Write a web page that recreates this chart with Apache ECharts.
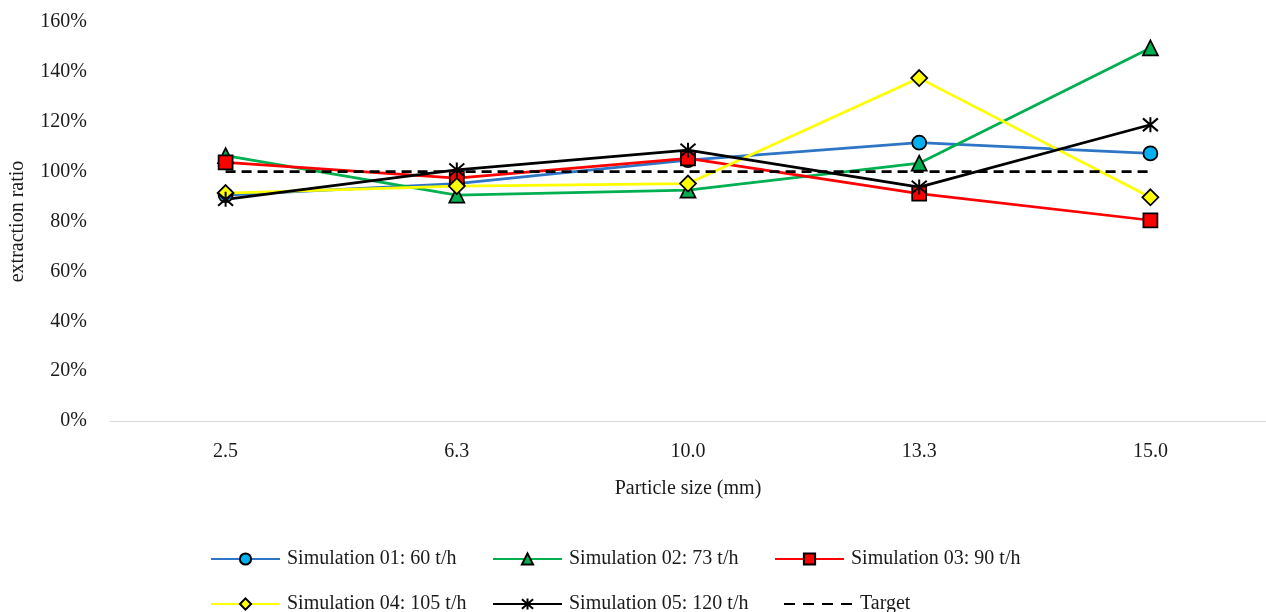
<!DOCTYPE html>
<html>
<head>
<meta charset="utf-8">
<script src="https://cdn.jsdelivr.net/npm/echarts@6/dist/echarts.min.js"></script>
<style>
  html, body { margin: 0; padding: 0; background: #fff; }
  #chart { width: 1266px; height: 612px; }
</style>
</head>
<body>
<div id="chart"></div>
<script>
// Particle size classes (mm)
const categories = ['2.5', '6.3', '10.0', '13.3', '15.0'];

// Extraction ratio (%) per simulation
const sim01 = [90.6, 95.2, 104.6, 111.6, 107.3];
const sim02 = [106.4, 90.6, 92.6, 103.4, 149.6];
const sim03 = [103.7, 97.4, 105.3, 91.2, 80.5];
const sim04 = [91.4, 94.2, 95.2, 137.5, 89.7];
const sim05 = [88.9, 100.7, 108.6, 93.8, 118.8];
const target = [100, 100, 100, 100, 100];

const seriesNames = [
  'Simulation 01: 60 t/h',
  'Simulation 02: 73 t/h',
  'Simulation 03: 90 t/h',
  'Simulation 04: 105 t/h',
  'Simulation 05: 120 t/h',
  'Target'
];

const yTicks = { min: 0, max: 160, interval: 20 };

const FONT = '"Liberation Serif", "DejaVu Serif", serif';
const TEXT = '#1a1a1a';
const FS = 20;
const LW = 2.75;
// six-armed asterisk marker drawn as strokes
const ASTERISK = 'path://M10,0 L10,20 M1.5,1.5 L18.5,18.5 M18.5,1.5 L1.5,18.5';

function sim(name, data, lineColor, fillColor, symbol, size, extra) {
  return Object.assign({
    name: name,
    type: 'line',
    data: data,
    symbol: symbol,
    symbolSize: size,
    showAllSymbol: true,
    lineStyle: { color: lineColor, width: LW },
    itemStyle: { color: fillColor, borderColor: '#000', borderWidth: 1.75 },
    emphasis: { disabled: true },
    animation: false
  }, extra || {});
}

const series = [
  sim(seriesNames[0], sim01, '#2E75C6', '#00B0F0', 'circle', 14),
  sim(seriesNames[1], sim02, '#00B050', '#00B050', 'triangle', 15),
  sim(seriesNames[2], sim03, '#FF0000', '#FF0000', 'rect', 14),
  sim(seriesNames[3], sim04, '#FFFF00', '#FFFF00', 'diamond', 16),
  sim(seriesNames[4], sim05, '#000000', '#000000', ASTERISK, 15,
      { itemStyle: { color: 'rgba(0,0,0,0)', borderColor: '#000', borderWidth: 2 } }),
  {
    name: seriesNames[5],
    type: 'line',
    data: target,
    symbol: 'none',
    lineStyle: { color: '#000', width: LW, type: [10, 6] },
    itemStyle: { color: '#000' },
    emphasis: { disabled: true },
    animation: false
  }
];

// One legend block per entry, laid out in a three-column grid
const legendCols = [210, 492, 774];
const legendRows = [549, 594];
const legends = seriesNames.map(function (n, i) {
  const lg = {
    data: [n],
    left: legendCols[i % 3],
    top: legendRows[Math.floor(i / 3)],
    padding: 0,
    itemWidth: 69,
    itemHeight: 14,
    itemGap: 0,
    selectedMode: false,
    textStyle: { fontFamily: FONT, fontSize: FS, color: TEXT, padding: [0, 0, 0, 2] }
  };
  if (i === 5) {
    // dashed line only, no marker
    lg.left += 9;
    lg.itemStyle = { opacity: 0 };
    lg.lineStyle = { type: [11, 8] };
  }
  return lg;
});

const chart = echarts.init(document.getElementById('chart'), null, { renderer: 'canvas' });
chart.setOption({
  backgroundColor: '#fff',
  animation: false,
  grid: { left: 110, top: 22, width: 1159, height: 399, containLabel: false },
  legend: legends,
  xAxis: {
    type: 'category',
    data: categories,
    boundaryGap: true,
    name: 'Particle size (mm)',
    nameLocation: 'middle',
    nameGap: 58,
    nameTextStyle: { fontFamily: FONT, fontSize: FS, color: TEXT },
    axisLine: { lineStyle: { color: '#D9D9D9', width: 1 } },
    axisTick: { show: false },
    axisLabel: { fontFamily: FONT, fontSize: FS, color: TEXT, margin: 21 },
    splitLine: { show: false }
  },
  yAxis: {
    type: 'value',
    min: yTicks.min,
    max: yTicks.max,
    interval: yTicks.interval,
    name: 'extraction ratio',
    nameLocation: 'middle',
    nameGap: 82,
    nameRotate: 90,
    nameTextStyle: { fontFamily: FONT, fontSize: FS, color: TEXT },
    axisLine: { show: false },
    axisTick: { show: false },
    axisLabel: { fontFamily: FONT, fontSize: FS, color: TEXT, margin: 23, formatter: '{value}%' },
    splitLine: { show: false }
  },
  series: series
});
</script>
</body>
</html>
